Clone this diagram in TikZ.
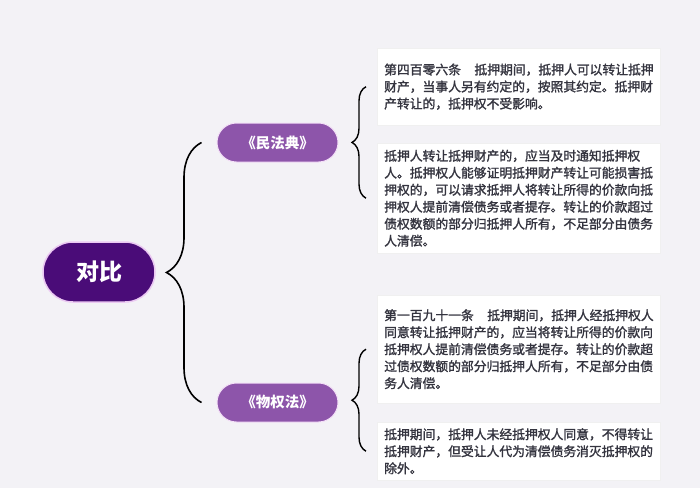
\documentclass[tikz,border=0pt]{standalone}
\usepackage{fontspec}
\setmainfont{Noto Sans CJK SC}
\newfontfamily\boxfont{Noto Sans CJK SC}[FakeBold=1.5]
\usepackage{tikz}
\usetikzlibrary{positioning,calc,decorations.pathreplacing}
\definecolor{bgcol}{HTML}{F3F2F6}
\definecolor{rootcol}{HTML}{4A0C78}
\definecolor{lawcol}{HTML}{8D55AA}
\definecolor{glowcol}{HTML}{EBC9F2}
\definecolor{txtcol}{HTML}{34343F}
\tikzset{
  rootnode/.style={fill=rootcol, draw=glowcol, line width=1.5pt, rounded corners=30pt, minimum width=112pt, minimum height=60pt, text=white, font=\fontsize{23pt}{26pt}\selectfont\bfseries},
  lawnode/.style={fill=lawcol, draw=glowcol!60, line width=1pt, rounded corners=19.5pt, minimum width=121pt, minimum height=39pt, text=white, font=\fontsize{14.5pt}{17pt}\selectfont\bfseries},
  textbox/.style={anchor=north west, fill=white, draw=black!6, inner xsep=7pt, inner ysep=0pt, text width=269pt, align=left, text=txtcol, font=\boxfont\fontsize{12.8pt}{17pt}\selectfont},
  bigbrace/.style={decorate, decoration={brace, amplitude=#1}, line width=1.6pt}
}

\begin{document}
\begin{tikzpicture}[x=1pt, y=-1pt]
\fill[bgcol] (0,0) rectangle (700,488);
\node[rootnode] (root) at (99,272) {对比};
\node[lawnode] (mfd) at (277.5,142.5) {《民法典》};
\node[lawnode] (wqf) at (277.5,402.5) {《物权法》};
\node[textbox, minimum height=77pt] (b1) at (377,48) {\mbox{第四百零六条\hspace{1.05em}抵押期间，抵押人可以转让抵押}\\财产，当事人另有约定的，按照其约定。抵押财\\产转让的，抵押权不受影响。};
\node[textbox, minimum height=110pt] (b2) at (377,143) {抵押人转让抵押财产的，应当及时通知抵押权\\人。抵押权人能够证明抵押财产转让可能损害抵\\押权的，可以请求抵押人将转让所得的价款向抵\\押权人提前清偿债务或者提存。转让的价款超过\\债权数额的部分归抵押人所有，不足部分由债务\\人清偿。};
\node[textbox, minimum height=108pt] (b3) at (377,295) {\mbox{第一百九十一条\hspace{1.05em}抵押期间，抵押人经抵押权人}\\同意转让抵押财产的，应当将转让所得的价款向\\抵押权人提前清偿债务或者提存。转让的价款超\\过债权数额的部分归抵押人所有，不足部分由债\\务人清偿。};
\node[textbox, minimum height=58pt] (b4) at (377,422) {抵押期间，抵押人未经抵押权人同意，不得转让\\抵押财产，但受让人代为清偿债务消灭抵押权的\\除外。};
\draw[bigbrace=35pt] ([xshift=-15pt]wqf.west) -- ([xshift=-15pt]mfd.west);
\draw[bigbrace=14pt, line width=1.4pt] ([xshift=-11pt]b2.west) -- ([xshift=-11pt]b1.west);
\draw[bigbrace=14pt, line width=1.4pt] ([xshift=-11pt]b4.west) -- ([xshift=-11pt]b3.west);
\end{tikzpicture}
\end{document}
